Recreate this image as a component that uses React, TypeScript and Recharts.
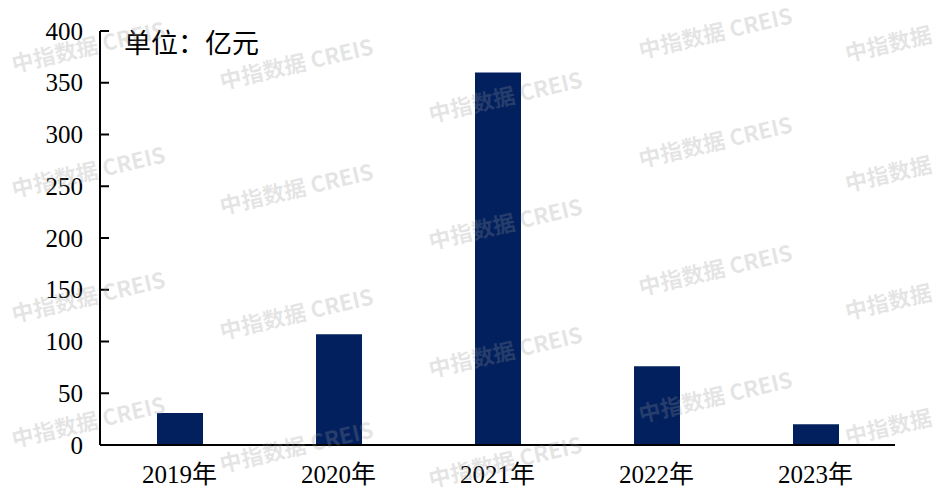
import React from 'react';
import { BarChart, Bar, XAxis, YAxis } from 'recharts';

const years = ['2019年', '2020年', '2021年', '2022年', '2023年'];
const amounts = [31, 107, 360, 76, 20];
const yTicks = [0, 50, 100, 150, 200, 250, 300, 350, 400];

const data = years.map((year, i) => ({ year, amount: amounts[i] }));

// watermark centres
const marks: [number, number, string][] = [
  [88, 45, '中指数据 CREIS'], [88, 170, '中指数据 CREIS'], [88, 295, '中指数据 CREIS'], [88, 420, '中指数据 CREIS'],
  [296, 62, '中指数据 CREIS'], [296, 187, '中指数据 CREIS'], [296, 312, '中指数据 CREIS'], [296, 445, '中指数据 CREIS'],
  [505, 95, '中指数据 CREIS'], [505, 222, '中指数据 CREIS'], [505, 350, '中指数据 CREIS'], [505, 460, '中指数据 CREIS'],
  [715, 31, '中指数据 CREIS'], [715, 140, '中指数据 CREIS'], [715, 268, '中指数据 CREIS'], [715, 395, '中指数据 CREIS'],
  [888, 42, '中指数据'], [888, 172, '中指数据'], [888, 300, '中指数据'], [888, 425, '中指数据'],
];

const serif = '"Times New Roman", "Liberation Serif", "Noto Sans CJK SC", serif';

function YTick(props: any) {
  const { x, y, payload } = props;
  return (
    <g>
      <line x1={x + 15} y1={y} x2={x + 24} y2={y} stroke="#000" strokeWidth={2} />
      <text x={x - 2} y={y} textAnchor="end" dominantBaseline="central" fontSize={25} fontFamily={serif} fill="#000">
        {payload.value}
      </text>
    </g>
  );
}

export default function App() {
  return (
    <div style={{ position: 'absolute', left: 0, top: 0, width: 942, height: 492, background: '#fff', overflow: 'hidden' }}>
      <BarChart width={942} height={492} data={data} margin={{ top: 31, right: 47, left: 0, bottom: 0 }} barCategoryGap={0}>
        <XAxis
          dataKey="year"
          height={47}
          tickLine={false}
          axisLine={{ stroke: '#000', strokeWidth: 2 }}
          tick={{ fontSize: 25, fontFamily: serif, fill: '#000' }}
          tickMargin={14}
        />
        <YAxis
          width={100}
          domain={[0, 400]}
          ticks={yTicks}
          interval={0}
          tickSize={0}
          tickMargin={15}
          tickLine={false}
          axisLine={{ stroke: '#000', strokeWidth: 2 }}
          tick={<YTick />}
        />
        <Bar dataKey="amount" fill="#03205E" barSize={46} isAnimationActive={false} />
      </BarChart>
      <div style={{ position: 'absolute', left: 124, top: 22, fontSize: 27, fontFamily: serif, color: '#000', whiteSpace: 'nowrap' }}>
        单位：亿元
      </div>
      {marks.map(([cx, cy, t], i) => (
        <div
          key={i}
          style={{
            position: 'absolute',
            left: cx,
            top: cy,
            transform: 'translate(-50%, -50%) rotate(-13deg)',
            fontFamily: '"Noto Sans CJK SC", "Noto Sans", sans-serif',
            fontWeight: 700,
            fontSize: 22,
            color: 'rgba(150,150,150,0.25)',
            whiteSpace: 'nowrap',
            pointerEvents: 'none',
          }}
        >
          {t}
        </div>
      ))}
    </div>
  );
}
